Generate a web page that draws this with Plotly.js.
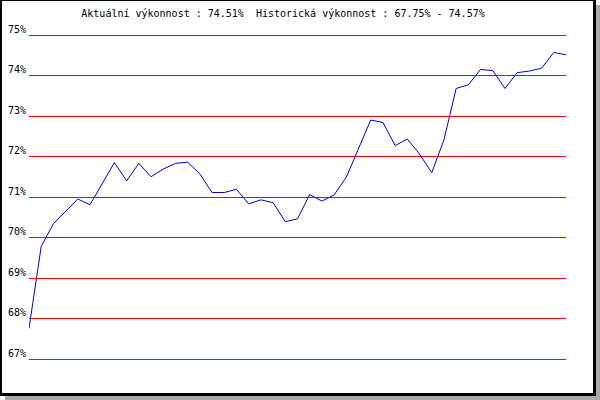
<!DOCTYPE html>
<html>
<head>
<meta charset="utf-8">
<script src="https://cdn.plot.ly/plotly-3.0.1.min.js"></script>
<style>
  html, body { margin: 0; padding: 0; background: #ffffff; }
  #wrap { position: relative; width: 600px; height: 400px; overflow: hidden; background: #ffffff; }
  #shadow { position: absolute; left: 5px; top: 5px; width: 595px; height: 395px; background: #aaaaaa; }
  #frame { position: absolute; left: 0; top: 0; width: 596px; height: 396px; box-sizing: border-box;
           border-left: 2px solid #000; border-top: 1px solid #000; border-right: 3px solid #000; border-bottom: 3px solid #000;
           background: #ffffff; }
  #chart { position: absolute; left: 0; top: 0; width: 600px; height: 400px; }
</style>
</head>
<body>
<div id="wrap">
  <div id="shadow"></div>
  <div id="frame"></div>
  <div id="chart"></div>
</div>
<script>
// Performance values (%), one per period
const performance = [
  67.75, 69.78, 70.34, 70.65, 70.95, 70.81, 71.32, 71.85, 71.40, 71.83,
  71.50, 71.69, 71.83, 71.86, 71.57, 71.11, 71.11, 71.19, 70.83, 70.93,
  70.86, 70.39, 70.46, 71.06, 70.90, 71.05, 71.49, 72.19, 72.90, 72.84,
  72.27, 72.43, 72.06, 71.60, 72.41, 73.68, 73.77, 74.15, 74.12, 73.68,
  74.07, 74.11, 74.18, 74.57, 74.51
];
const periods = performance.map((_, i) => i);
const tickValues = [67, 68, 69, 70, 71, 72, 73, 74, 75];
const tickLabels = ["67%", "68%", "69%", "70%", "71%", "72%", "73%", "74%", "75%"];
const titleText = "Aktuální výkonnost : 74.51%  Historická výkonnost : 67.75% - 74.57%";

const mono = "DejaVu Sans Mono, monospace";
const pxPerUnit = 40.54;
const pad = 5 / pxPerUnit;

const trace = {
  x: periods,
  y: performance,
  type: "scatter",
  mode: "lines",
  line: { color: "#0000cc", width: 1 },
  hoverinfo: "skip"
};

const layout = {
  width: 600,
  height: 400,
  margin: { l: 29, r: 34, t: 30, b: 36, pad: 0 },
  paper_bgcolor: "rgba(0,0,0,0)",
  plot_bgcolor: "rgba(0,0,0,0)",
  showlegend: false,
  title: {
    text: titleText,
    font: { family: mono, size: 10, color: "#000000" },
    x: 283 / 600,
    xanchor: "center",
    y: 1 - 13.5 / 400,
    yanchor: "middle"
  },
  xaxis: {
    range: [0, periods.length - 1],
    showgrid: false,
    zeroline: false,
    showline: false,
    showticklabels: false,
    ticks: "",
    fixedrange: true
  },
  yaxis: {
    range: [tickValues[0] - pad, tickValues[tickValues.length - 1] + pad],
    tickmode: "array",
    tickvals: tickValues,
    ticktext: tickLabels,
    showgrid: true,
    gridcolor: "#ff0000",
    gridwidth: 1,
    zeroline: false,
    showline: false,
    ticks: "",
    ticklabelshift: -6,
    ticklabelstandoff: 2,
    tickfont: { family: mono, size: 10, color: "#000000" },
    fixedrange: true
  }
};

Plotly.newPlot("chart", [trace], layout, { displayModeBar: false, staticPlot: true });
</script>
</body>
</html>
